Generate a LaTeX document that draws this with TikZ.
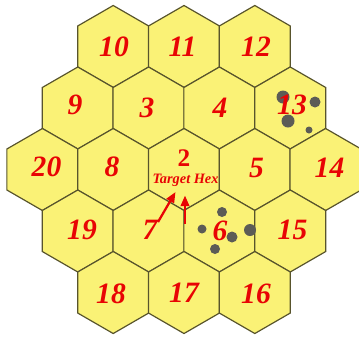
\documentclass[tikz,border=0pt]{standalone}
\usepackage{fontspec}
\setmainfont{Liberation Serif}
\usetikzlibrary{shapes.geometric,arrows.meta}
\definecolor{hexfill}{RGB}{250, 242, 118}
\definecolor{hexedge}{RGB}{88, 84, 44}
\definecolor{numred}{RGB}{232, 4, 4}
\definecolor{blotgray}{RGB}{92, 92, 86}

\begin{document}
\begin{tikzpicture}[x=0.025cm, y=-0.025cm,
    hex/.style={draw=hexedge, fill=hexfill, line width=0.85pt, regular polygon, regular polygon sides=6, shape border rotate=30, minimum size=2.05cm, inner sep=0pt},
    num/.style={color=numred, font=\fontsize{21}{22}\selectfont\bfseries\itshape, inner sep=0pt},
    blot/.style={fill=blotgray},
    pointer/.style={-{Triangle[length=7.5pt, width=6pt]}, line width=1.6pt, color=numred}
  ]
    \useasboundingbox (0,0) rectangle (359,337);

    % the nineteen hexes, row by row
    \foreach \n/\x/\y in {10/113.2/46.5, 11/184/46.5, 12/254.8/46.5,
                          9/77.8/108, 3/148.6/108, 4/219.4/108, 13/290.2/108,
                          20/42.4/169.5, 8/113.2/169.5, 2/184/169.5, 5/254.8/169.5, 14/325.6/169.5,
                          19/77.8/231, 7/148.6/231, 6/219.4/231, 15/290.2/231,
                          18/113.2/292.5, 17/184/292.5, 16/254.8/292.5}
      \node[hex] (h\n) at (\x,\y) {};

    % dark marks
    \fill[blot] (283,97) circle (6.5);
    \fill[blot] (315,102) circle (5.5);
    \fill[blot] (288,121) circle (6.5);
    \fill[blot] (309,130) circle (3.5);
    \fill[blot] (222,212) circle (5);
    \fill[blot] (202,229) circle (4.5);
    \fill[blot] (232,237) circle (5.5);
    \fill[blot] (215,249) circle (5);
    \fill[blot] (250,230) circle (6);

    % numbers
    \foreach \n/\x/\y in {10/114/46.5, 11/182.5/47, 12/256/47,
                          9/75/105, 3/147/107.5, 4/220/108, 13/292/105,
                          20/46.5/167, 8/112/167, 5/256.5/168, 14/329.5/168,
                          19/82/229.5, 7/150/230, 6/220/231, 15/292.5/230,
                          18/111/294, 17/184/293, 16/256/294}
      \node[num] (n\n) at (\x,\y) {\n};
    \node[color=numred, font=\fontsize{18}{20}\selectfont\bfseries, inner sep=0pt] (n2) at (184,158.5) {2};

    \node[color=numred, font=\fontsize{10.2}{12}\selectfont\bfseries\itshape, inner sep=0pt] (target) at (185.5,180.5) {Target Hex};
    \coordinate (tail7) at (158,222);
    \coordinate (tip7) at (175.5,192);
    \coordinate (tail6) at (185,224);
    \coordinate (tip6) at (185,195.5);
    \draw[pointer] (tail7) -- (tip7);
    \draw[pointer] (tail6) -- (tip6);
  \end{tikzpicture}
\end{document}
